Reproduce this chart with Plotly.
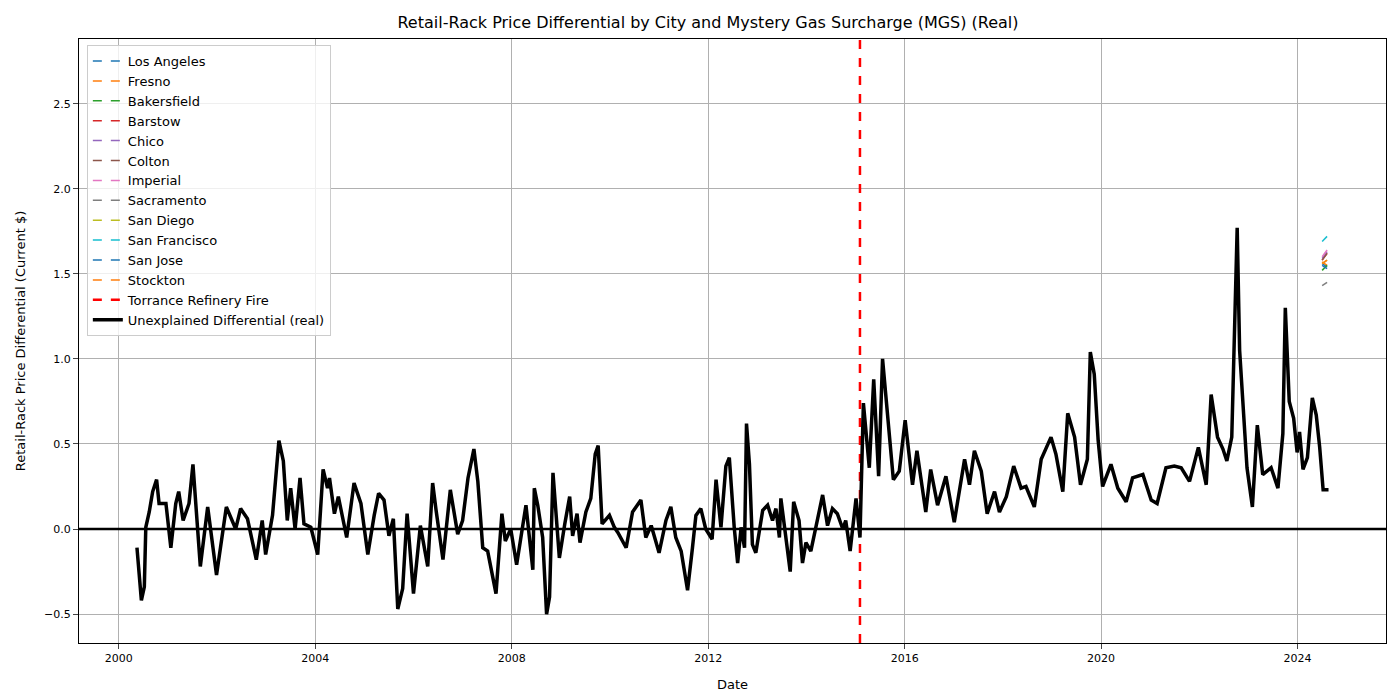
import plotly.graph_objects as go

# Unexplained differential (real) (decimal year, $)
years = [2000.37, 2000.46, 2000.52, 2000.55, 2000.62, 2000.69, 2000.77, 2000.82, 2000.96, 2001.06,
         2001.16, 2001.22, 2001.31, 2001.43, 2001.51, 2001.66, 2001.81, 2001.99, 2002.19, 2002.38,
         2002.48, 2002.62, 2002.80, 2002.92, 2002.99, 2003.13, 2003.26, 2003.35, 2003.43, 2003.50,
         2003.59, 2003.69, 2003.77, 2003.91, 2004.05, 2004.16, 2004.25, 2004.29, 2004.39, 2004.47,
         2004.64, 2004.79, 2004.93, 2005.07, 2005.20, 2005.29, 2005.40, 2005.50, 2005.59, 2005.68,
         2005.78, 2005.87, 2006.00, 2006.14, 2006.29, 2006.39, 2006.46, 2006.60, 2006.75, 2006.90,
         2007.00, 2007.11, 2007.23, 2007.31, 2007.41, 2007.51, 2007.68, 2007.80, 2007.87, 2007.98,
         2008.10, 2008.29, 2008.43, 2008.46, 2008.53, 2008.63, 2008.71, 2008.77, 2008.84, 2008.97,
         2009.08, 2009.18, 2009.24, 2009.33, 2009.39, 2009.51, 2009.61, 2009.70, 2009.76, 2009.84,
         2009.99, 2010.09, 2010.16, 2010.33, 2010.46, 2010.63, 2010.73, 2010.84, 2011.00, 2011.14,
         2011.24, 2011.34, 2011.45, 2011.58, 2011.68, 2011.75, 2011.85, 2011.95, 2012.08, 2012.16,
         2012.26, 2012.36, 2012.43, 2012.53, 2012.60, 2012.67, 2012.74, 2012.78, 2012.84, 2012.90,
         2012.97, 2013.11, 2013.21, 2013.31, 2013.38, 2013.45, 2013.48, 2013.58, 2013.67, 2013.74,
         2013.85, 2013.92, 2013.99, 2014.09, 2014.23, 2014.33, 2014.43, 2014.53, 2014.63, 2014.74,
         2014.80, 2014.89, 2015.01, 2015.09, 2015.16, 2015.28, 2015.37, 2015.47, 2015.55, 2015.65,
         2015.77, 2015.89, 2016.01, 2016.16, 2016.25, 2016.43, 2016.53, 2016.67, 2016.84, 2017.01,
         2017.22, 2017.32, 2017.42, 2017.56, 2017.68, 2017.83, 2017.93, 2018.07, 2018.22, 2018.37,
         2018.47, 2018.64, 2018.78, 2018.98, 2019.08, 2019.22, 2019.32, 2019.46, 2019.58, 2019.72,
         2019.78, 2019.86, 2019.94, 2020.03, 2020.20, 2020.34, 2020.51, 2020.64, 2020.85, 2021.02,
         2021.14, 2021.32, 2021.49, 2021.63, 2021.80, 2021.98, 2022.14, 2022.24, 2022.37, 2022.48,
         2022.56, 2022.66, 2022.71, 2022.77, 2022.82, 2022.89, 2022.97, 2023.08, 2023.18, 2023.29,
         2023.46, 2023.60, 2023.70, 2023.75, 2023.83, 2023.92, 2023.99, 2024.04, 2024.11, 2024.20,
         2024.30, 2024.38, 2024.45, 2024.52, 2024.63]
differential = [-0.11, -0.42, -0.34, 0.01, 0.10, 0.22, 0.29, 0.15, 0.15, -0.11,
                0.15, 0.22, 0.05, 0.15, 0.38, -0.22, 0.13, -0.27, 0.13, 0.00,
                0.12, 0.06, -0.18, 0.05, -0.15, 0.08, 0.52, 0.40, 0.05, 0.24,
                0.00, 0.30, 0.03, 0.01, -0.15, 0.35, 0.24, 0.30, 0.09, 0.19,
                -0.05, 0.27, 0.15, -0.15, 0.08, 0.21, 0.17, -0.04, 0.06, -0.47,
                -0.35, 0.09, -0.38, 0.02, -0.22, 0.27, 0.11, -0.18, 0.23, -0.03,
                0.05, 0.30, 0.47, 0.28, -0.11, -0.13, -0.38, 0.09, -0.07, 0.00,
                -0.21, 0.14, -0.24, 0.24, 0.14, -0.05, -0.50, -0.40, 0.33, -0.17,
                0.03, 0.19, -0.04, 0.09, -0.08, 0.10, 0.18, 0.44, 0.49, 0.03,
                0.08, 0.01, -0.02, -0.11, 0.10, 0.17, -0.05, 0.02, -0.14, 0.05,
                0.13, -0.05, -0.13, -0.36, -0.11, 0.08, 0.12, 0.00, -0.06, 0.29,
                0.01, 0.37, 0.42, 0.01, -0.20, 0.01, -0.11, 0.62, 0.38, -0.09,
                -0.14, 0.11, 0.14, 0.05, 0.12, -0.05, 0.18, -0.05, -0.25, 0.16,
                0.05, -0.20, -0.08, -0.13, 0.05, 0.20, 0.02, 0.12, 0.09, 0.00,
                0.05, -0.13, 0.18, -0.05, 0.74, 0.36, 0.88, 0.31, 1.00, 0.66,
                0.29, 0.34, 0.64, 0.26, 0.46, 0.10, 0.35, 0.14, 0.31, 0.04,
                0.41, 0.26, 0.46, 0.34, 0.09, 0.22, 0.10, 0.19, 0.37, 0.24,
                0.25, 0.13, 0.41, 0.54, 0.44, 0.22, 0.68, 0.54, 0.26, 0.41,
                1.04, 0.91, 0.52, 0.25, 0.38, 0.24, 0.16, 0.30, 0.32, 0.17,
                0.15, 0.36, 0.37, 0.36, 0.28, 0.48, 0.26, 0.79, 0.54, 0.47,
                0.40, 0.54, 1.11, 1.77, 1.05, 0.71, 0.36, 0.13, 0.61, 0.32,
                0.36, 0.24, 0.56, 1.30, 0.75, 0.65, 0.45, 0.57, 0.35, 0.42,
                0.77, 0.67, 0.48, 0.23, 0.23]

# MGS by city: short segments at the end of the series
cities = ["Los Angeles", "Fresno", "Bakersfield", "Barstow", "Chico", "Colton", "Imperial",
          "Sacramento", "San Diego", "San Francisco", "San Jose", "Stockton"]
city_years = [2024.5, 2024.6]
city_start = [1.56, 1.57, 1.52, 1.58, 1.59, 1.58, 1.60, 1.43, 1.56, 1.69, 1.55, 1.56]
city_end = [1.54, 1.55, 1.55, 1.62, 1.63, 1.62, 1.64, 1.45, 1.58, 1.72, 1.53, 1.58]
colors = ["#1f77b4", "#ff7f0e", "#2ca02c", "#d62728", "#9467bd", "#8c564b", "#e377c2",
          "#7f7f7f", "#bcbd22", "#17becf", "#1f77b4", "#ff7f0e"]
fire_year = 2015.09

fig = go.Figure()
for name, s, e, c in zip(cities, city_start, city_end, colors):
    fig.add_trace(go.Scatter(x=city_years, y=[s, e], mode="lines", name=name,
                             line=dict(color=c, width=1.5, dash="dash")))

fig.add_trace(go.Scatter(x=[fire_year, fire_year], y=[-0.67, 2.88], mode="lines",
                         name="Torrance Refinery Fire",
                         line=dict(color="red", width=2.5, dash="dash")))
fig.add_trace(go.Scatter(x=years, y=differential, mode="lines",
                         name="Unexplained Differential (real)",
                         line=dict(color="black", width=3.5)))

fig.add_hline(y=0, line=dict(color="black", width=2.5))

fig.update_layout(
    width=1400, height=700,
    title=dict(text="Retail-Rack Price Differential by City and Mystery Gas Surcharge (MGS) (Real)",
               x=0.5, xanchor="center", y=0.979, yanchor="middle", font=dict(size=16, color="black")),
    font=dict(family="DejaVu Sans", size=12, color="black"),
    plot_bgcolor="white", paper_bgcolor="white",
    margin=dict(l=71, r=22, t=31, b=65),
    showlegend=True,
    legend=dict(x=0.006, y=0.99, xanchor="left", yanchor="top",
                bordercolor="#cccccc", borderwidth=1, bgcolor="rgba(255,255,255,0.8)",
                font=dict(size=13), tracegroupgap=0),
    xaxis=dict(title=dict(text="Date", font=dict(size=13)), range=[1999.19, 2025.8],
               tickvals=[2000, 2004, 2008, 2012, 2016, 2020, 2024], tickfont=dict(size=11),
               showgrid=True, gridcolor="#b0b0b0", zeroline=False, ticks="outside",
               showline=True, linecolor="black", mirror=True),
    yaxis=dict(title=dict(text="Retail-Rack Price Differential (Current $)", font=dict(size=13)),
               range=[-0.67, 2.88], dtick=0.5, tickfont=dict(size=11),
               tickformat=".1f", showgrid=True, gridcolor="#b0b0b0", zeroline=False, ticks="outside",
               showline=True, linecolor="black", mirror=True),
)

fig.write_html("out.html")
